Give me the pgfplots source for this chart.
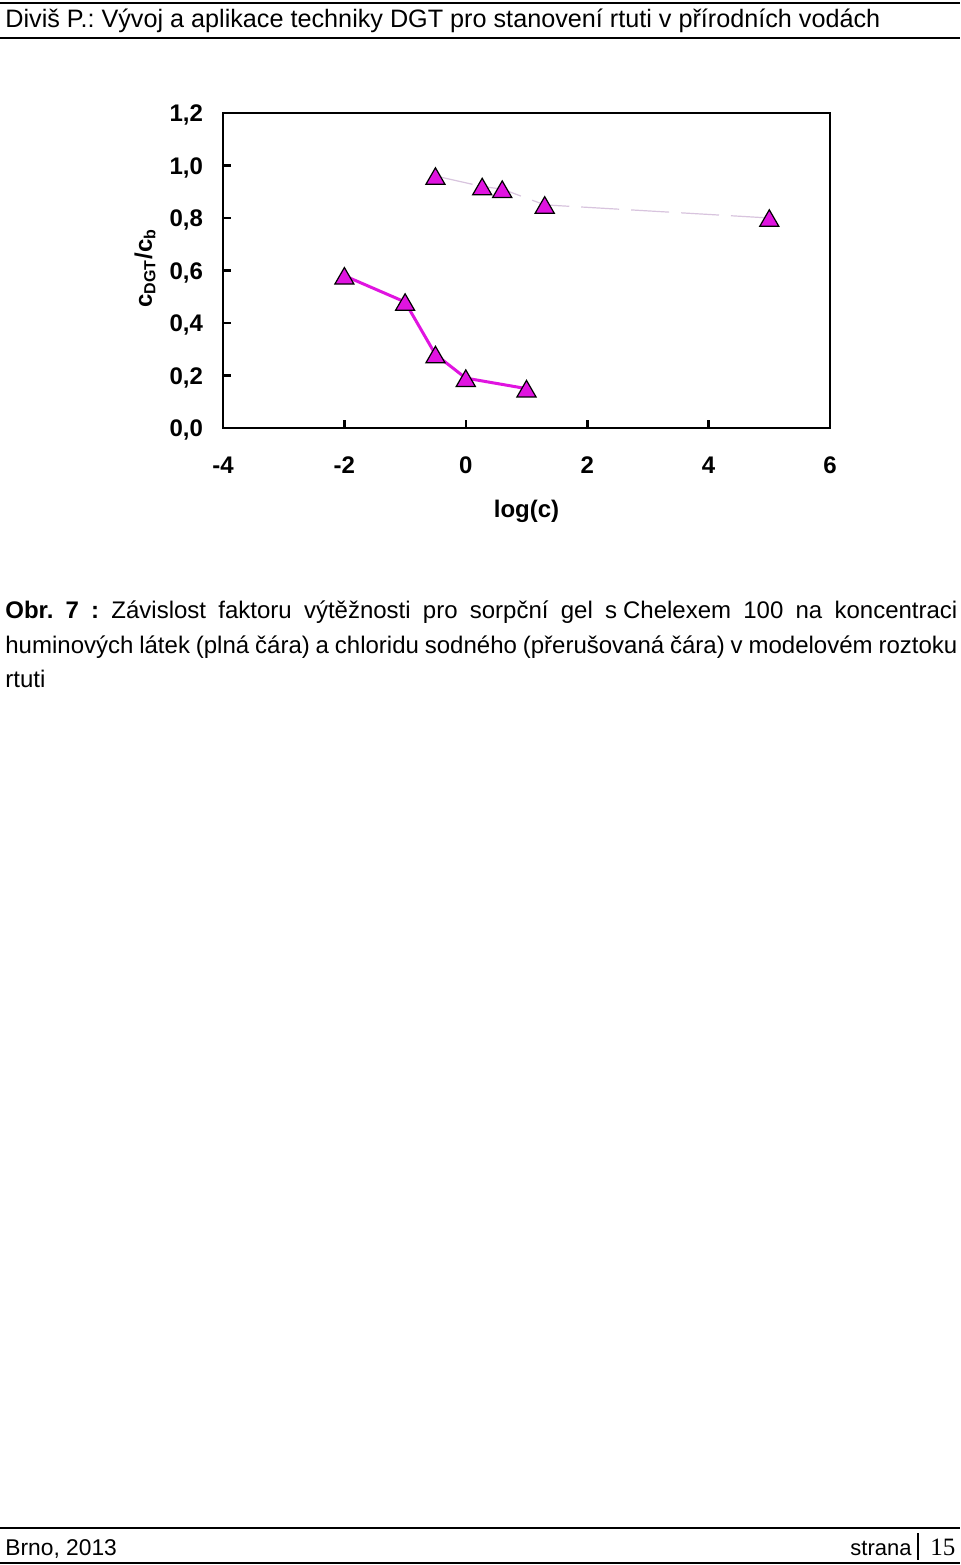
\documentclass[border=0pt]{standalone}
\usepackage{fontspec}
\setmainfont{Liberation Sans}
\newfontfamily\timesfont{Liberation Serif}
\usepackage{pgfplots}
\pgfplotsset{compat=1.18}
\definecolor{mag}{RGB}{224,20,224}
\definecolor{lav}{RGB}{216,196,222}
\frenchspacing
\begin{document}
\begin{tikzpicture}[x=1pt,y=1pt]
\path[use as bounding box, fill=white] (0,0) rectangle (480,782.5);
% header
\draw[line width=1.2pt] (0,781) -- (480,781);
\draw[line width=1.2pt] (0,763.5) -- (480,763.5);
\node[anchor=base west, inner sep=0, font=\fontsize{12.6}{14}\selectfont] at (2.5,768.5) {Diviš P.: Vývoj a aplikace techniky DGT pro stanovení rtuti v přírodních vodách};
\begin{axis}[
  at={(111.5pt,568.5pt)}, anchor=south west,
  scale only axis, width=303.5pt, height=157.5pt,
  xmin=-4, xmax=6, ymin=0, ymax=1.2,
  xtick={-4,-2,0,2,4,6}, xticklabels={-4,-2,0,2,4,6},
  ytick={0,0.2,0.4,0.6,0.8,1.0,1.2},
  yticklabels={{0,0},{0,2},{0,4},{0,6},{0,8},{1,0},{1,2}},
  tick align=inside, xtick pos=bottom, ytick pos=left,
  major tick length=4pt,
  axis line style={line width=1.3pt},
  major tick style={black, line width=1.3pt},
  ticklabel style={font=\bfseries\fontsize{12}{14}\selectfont},
  xticklabel style={yshift=-11pt},
  yticklabel style={xshift=-6.5pt, yshift=-1pt},
  xlabel={log(c)},
  xlabel style={at={(axis description cs:0.5,-0.2635)}, anchor=center, font=\bfseries\fontsize{12}{14}\selectfont},
  ylabel={c\textsubscript{DGT}/c\textsubscript{b}},
  ylabel style={at={(axis description cs:-0.1285,0.508)}, anchor=center, font=\bfseries\fontsize{12}{14}\selectfont},
  clip=false,
]
\addplot[mag, line width=1.5pt, mark=triangle*, mark size=5.5pt,
  mark options={fill=mag, draw=black, line width=0.6pt, solid, yshift=-1.4pt}]
  coordinates {(-2,0.58) (-1,0.48) (-0.5,0.28) (0,0.19) (1,0.15)};
\addplot[lav, line width=0.6pt, dash pattern=on 19pt off 6pt, mark=triangle*, mark size=5.5pt,
  mark options={fill=mag, draw=black, line width=0.6pt, solid, yshift=-1.4pt}]
  coordinates {(-0.5,0.96) (0.27,0.92) (0.6,0.91) (1.3,0.85) (5,0.80)};
\end{axis}
% caption
\node[anchor=base west, inner sep=0, font=\fontsize{12}{14}\selectfont] at (2.5,473) {\makebox[476pt][s]{\textbf{Obr. 7 :} Závislost faktoru výtěžnosti pro sorpční gel s\hspace{3pt}Chelexem 100 na koncentraci}};
\node[anchor=base west, inner sep=0, font=\fontsize{12}{14}\selectfont] at (2.5,455.5) {\makebox[476pt][s]{huminových látek (plná čára) a chloridu sodného (přerušovaná čára) v modelovém roztoku}};
\node[anchor=base west, inner sep=0, font=\fontsize{12}{14}\selectfont] at (2.5,438.5) {rtuti};
% footer
\draw[line width=1.2pt] (0,18.5) -- (480,18.5);
\draw[line width=1.2pt] (0,1) -- (480,1);
\node[anchor=base west, inner sep=0, font=\fontsize{11.4}{13}\selectfont] at (2.5,5) {Brno, 2013};
\node[anchor=base east, inner sep=0, font=\fontsize{11}{13}\selectfont] at (456,5) {strana};
\draw[line width=0.6pt] (459,2.5) -- (459,16);
\node[anchor=base west, inner sep=0, font=\timesfont\fontsize{12.5}{14}\selectfont] at (465,5) {15};
\end{tikzpicture}
\end{document}
